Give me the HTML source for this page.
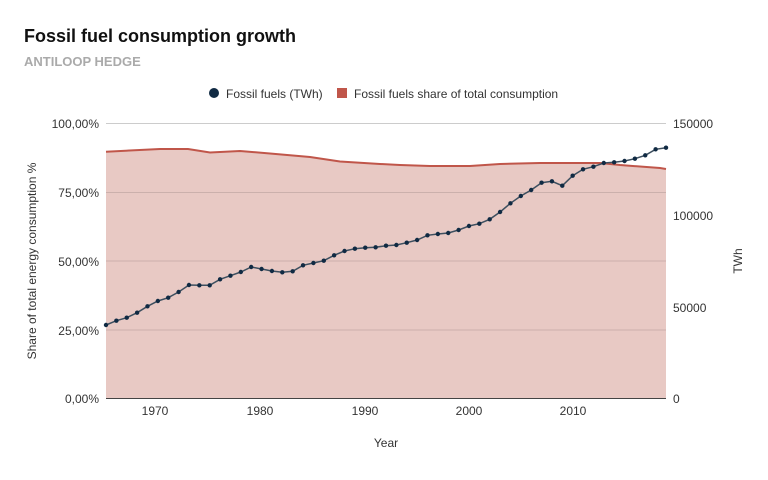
<!DOCTYPE html>
<html><head><meta charset="utf-8"><style>
body{margin:0;background:#fff;width:768px;height:475px;overflow:hidden;font-family:"Liberation Sans",sans-serif}
</style></head><body>
<svg width="768" height="475" xmlns="http://www.w3.org/2000/svg" font-family="Liberation Sans, sans-serif">
<text x="24" y="42" font-size="18" font-weight="bold" fill="#111">Fossil fuel consumption growth</text>
<text x="24" y="66" font-size="13" font-weight="bold" fill="#aaa">ANTILOOP HEDGE</text>
<circle cx="214" cy="93" r="5" fill="#102a43"/>
<text x="226" y="98" font-size="12" fill="#333">Fossil fuels (TWh)</text>
<rect x="337" y="88" width="10" height="10" fill="#c0564a"/>
<text x="354" y="98" font-size="12" fill="#333">Fossil fuels share of total consumption</text>
<path d="M106,151.7 L160,149 L188,149 L210,152.5 L240,151 L270,153.5 L310,157 L340,161.5 L380,164 L400,165 L430,166 L470,166 L500,164 L540,163 L600,163 L620,165 L660,168 L666,169 L666,398 L106,398Z" fill="#e8c9c4"/>
<g stroke="#000" stroke-opacity="0.12" stroke-width="1">
<line x1="106" y1="123.5" x2="666" y2="123.5" stroke="#ccc" stroke-opacity="1"/>
<line x1="106" y1="192.5" x2="666" y2="192.5"/>
<line x1="106" y1="261" x2="666" y2="261"/>
<line x1="106" y1="330" x2="666" y2="330"/>
</g>
<line x1="106" y1="398.5" x2="666" y2="398.5" stroke="#444"/>
<path d="M106,151.7 L160,149 L188,149 L210,152.5 L240,151 L270,153.5 L310,157 L340,161.5 L380,164 L400,165 L430,166 L470,166 L500,164 L540,163 L600,163 L620,165 L660,168 L666,169" fill="none" stroke="#c0564a" stroke-width="2"/>
<g id="fl"></g>
<g font-size="12" fill="#333" text-anchor="end">
<text x="99" y="128">100,00%</text><text x="99" y="197">75,00%</text><text x="99" y="266">50,00%</text><text x="99" y="335">25,00%</text><text x="99" y="403">0,00%</text>
</g>
<g font-size="12" fill="#333">
<text x="673" y="128">150000</text><text x="673" y="220">100000</text><text x="673" y="312">50000</text><text x="673" y="403">0</text>
</g>
<g font-size="12" fill="#333" text-anchor="middle">
<text x="155" y="415">1970</text><text x="260" y="415">1980</text><text x="365" y="415">1990</text><text x="469" y="415">2000</text><text x="573" y="415">2010</text>
<text x="386" y="447">Year</text>
</g>
<text transform="translate(36,261) rotate(-90)" font-size="12" fill="#333" text-anchor="middle">Share of total energy consumption %</text>
<text transform="translate(742,261) rotate(-90)" font-size="12" fill="#333" text-anchor="middle">TWh</text>
</svg>
<script>
var ys=[325,320.7,317.7,312.7,306.3,301,297.7,292,285,285.3,285.3,279.3,275.7,272,267,269,271,272.3,271.3,265.3,263,260.7,255.3,251,248.7,247.7,247.3,245.7,245,242.7,240,235.3,234,233,230,226,223.7,219.3,212,203.3,196,190,182.7,181.3,185.7,175.7,169.3,166.7,163,162.3,161,158.7,155.3,149.3,147.7];
var g=document.getElementById('fl'),ns='http://www.w3.org/2000/svg',d='';
ys.forEach(function(y,i){var x=106+i*560/54;d+=(i?'L':'M')+x.toFixed(1)+','+y;var c=document.createElementNS(ns,'circle');c.setAttribute('cx',x);c.setAttribute('cy',y);c.setAttribute('r',2.2);c.setAttribute('fill','#102a43');g.appendChild(c);});
var p=document.createElementNS(ns,'path');p.setAttribute('d',d);p.setAttribute('fill','none');p.setAttribute('stroke','#3d4f5f');p.setAttribute('stroke-width','1.5');g.insertBefore(p,g.firstChild);
</script>
</body></html>
